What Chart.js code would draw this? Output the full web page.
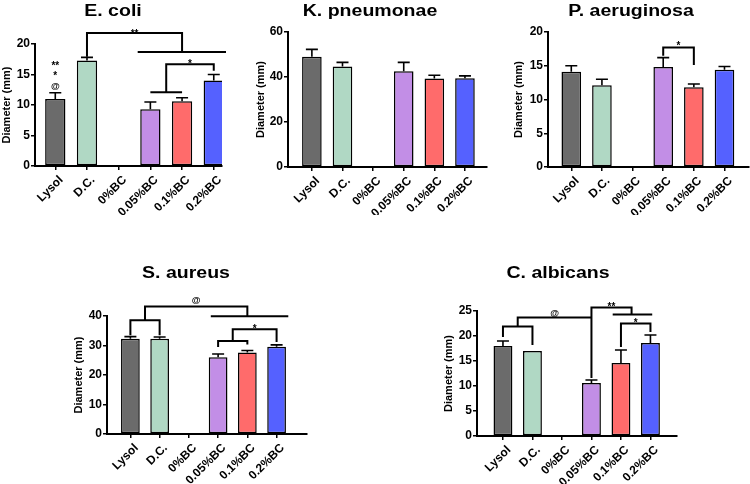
<!DOCTYPE html>
<html>
<head>
<meta charset="utf-8">
<script src="https://cdn.jsdelivr.net/npm/chart.js@4"></script>
<style>
  body { margin: 0; background: #fff; }
  #page { position: relative; width: 750px; height: 484px; overflow: hidden; background: #fff; }
  canvas { position: absolute; }
</style>
</head>
<body>
<div id="page">
  <canvas id="ecoli" width="226" height="215" style="left:0px;top:0px"></canvas>
  <canvas id="kpneu" width="240" height="215" style="left:250px;top:0px"></canvas>
  <canvas id="paeru" width="238" height="215" style="left:512px;top:0px"></canvas>
  <canvas id="saur" width="248" height="234" style="left:62px;top:250px"></canvas>
  <canvas id="calb" width="244" height="234" style="left:436px;top:250px"></canvas>
</div>
<script>
const categories = ['Lysol', 'D.C.', '0%BC', '0.05%BC', '0.1%BC', '0.2%BC'];
const barColors = ['#6b6b6b', '#b0d8c4', '#ffffff', '#c28ee6', '#ff6b6b', '#5561ff'];

// mean diameter (mm) and upper SD per group
const ecoliMean = [11.0, 17.3, 0, 9.3, 10.6, 14.0];
const ecoliSd = [1.0, 0.5, 0, 1.2, 0.6, 1.0];
const kpneuMean = [49.0, 44.7, 0, 42.6, 39.3, 39.5];
const kpneuSd = [3.3, 1.8, 0, 3.9, 1.5, 1.0];
const paeruMean = [14.1, 12.1, 0, 14.8, 11.8, 14.4];
const paeruSd = [0.9, 0.9, 0, 1.4, 0.5, 0.5];
const saurMean = [32.3, 32.3, 0, 26.0, 27.6, 29.6];
const saurSd = [0.7, 0.6, 0, 1.1, 0.7, 0.6];
const calbMean = [18.0, 17.0, 0, 10.6, 14.6, 18.6];
const calbSd = [1.0, 0, 0, 0.6, 2.6, 1.6];

// significance brackets: polylines as [category index, value]
const ecoliLines = [
  [[1, 17.9], [1, 21.8], [4, 21.8], [4, 18.7]],
  [[2.6, 18.7], [5.4, 18.7]],
  [[3.5, 12.1], [3.5, 16.7], [5, 16.7], [5, 15.6]],
  [[3, 12.1], [4, 12.1]]
];
const ecoliMarks = [['**', 2.5, 22.1], ['*', 4.25, 17.2], ['**', 0, 16.9], ['*', 0, 15.2], ['@', 0, 13.0]];
const kpneuLines = [];
const kpneuMarks = [];
const paeruLines = [[[3, 16.5], [3, 17.7], [4, 17.7], [4, 15.1]]];
const paeruMarks = [['*', 3.5, 18.3]];
const saurLines = [
  [[0.5, 38.6], [0.5, 43.2], [4, 43.2], [4, 39.9]],
  [[0, 33.5], [0, 38.6], [1, 38.6], [1, 33.5]],
  [[2.75, 39.9], [5.4, 39.9]],
  [[3.5, 31.5], [3.5, 35.5], [5, 35.5], [5, 31.2]],
  [[3, 29.5], [3, 31.5], [4, 31.5], [4, 30.3]]
];
const saurMarks = [['@', 2.25, 45.3], ['*', 4.25, 36.5]];
const calbLines = [
  [[0.5, 21.9], [0.5, 23.7], [3, 23.7]],
  [[0, 19.8], [0, 21.9], [1, 21.9], [1, 18.2]],
  [[3, 11.6], [3, 25.7], [4.36, 25.7], [4.36, 24.3]],
  [[3.72, 24.3], [5.06, 24.3]],
  [[4, 17.8], [4, 22.5], [5, 22.5], [5, 20.8]]
];
const calbMarks = [['@', 1.75, 24.5], ['**', 3.68, 26.3], ['*', 4.5, 23.1]];

const FONT = "'Liberation Sans', Arial, sans-serif";
Chart.defaults.font.family = FONT;
Chart.defaults.color = '#000';

// category axis with a little extra room at each end (GraphPad style)
const CategoryScale = Chart.registry.getScale('category');
class GapCategoryScale extends CategoryScale {
  configure() {
    super.configure();
    const gl = this.options.gapLeft || 0, gr = this.options.gapRight || 0;
    this._startValue -= gl;
    this._valueRange += gl + gr;
  }
}
GapCategoryScale.id = 'gapcategory';
GapCategoryScale.defaults = CategoryScale.defaults;
Chart.register(GapCategoryScale);

const annotate = {
  id: 'annotate',
  afterDatasetsDraw(chart, args, opts) {
    const ctx = chart.ctx;
    const x = chart.scales.x, y = chart.scales.y;
    const x0 = x.getPixelForValue(0);
    const step = x.getPixelForValue(1) - x0;
    const px = i => x0 + i * step;
    const values = chart.data.datasets[0].data;
    ctx.save();
    ctx.strokeStyle = '#000';
    ctx.lineWidth = 1.6;
    // error bars
    opts.sd.forEach((s, i) => {
      if (!s) return;
      const cx = px(i);
      const yb = y.getPixelForValue(values[i]);
      const yt = y.getPixelForValue(values[i] + s);
      ctx.beginPath();
      ctx.moveTo(cx, yb);
      ctx.lineTo(cx, yt);
      ctx.moveTo(cx - 6, yt);
      ctx.lineTo(cx + 6, yt);
      ctx.stroke();
    });
    // brackets
    ctx.lineWidth = 2;
    opts.lines.forEach(pts => {
      ctx.beginPath();
      pts.forEach((p, k) => {
        const X = px(p[0]), Y = y.getPixelForValue(p[1]);
        if (k === 0) ctx.moveTo(X, Y); else ctx.lineTo(X, Y);
      });
      ctx.stroke();
    });
    ctx.fillStyle = '#000';
    ctx.textAlign = 'center';
    ctx.textBaseline = 'alphabetic';
    opts.marks.forEach(([t, i, v]) => {
      const star = t.includes('*');
      const size = star ? 10 : 9;
      ctx.font = 'bold ' + size + 'px ' + FONT;
      ctx.fillText(t, px(i), y.getPixelForValue(v) + size * (star ? 0.57 : 0.28));
    });
    ctx.restore();
  },
  afterDraw(chart, args, opts) {
    const ctx = chart.ctx;
    ctx.save();
    ctx.fillStyle = '#000';
    ctx.font = 'bold 16px ' + FONT;
    ctx.textAlign = 'center';
    ctx.textBaseline = 'alphabetic';
    ctx.translate(chart.width / 2, opts.titleY);
    ctx.scale(1.22, 1);
    ctx.fillText(opts.title, 0, 0);
    ctx.restore();
  }
};

function makeChart(id, title, mean, sd, yMax, yStep, lines, marks, box) {
  new Chart(document.getElementById(id), {
    type: 'bar',
    data: {
      labels: categories,
      datasets: [{
        data: mean,
        backgroundColor: barColors,
        borderColor: '#000',
        borderWidth: 1.5,
        borderSkipped: false,
        barPercentage: 0.64,
        categoryPercentage: 1
      }]
    },
    options: {
      responsive: false,
      animation: false,
      layout: { padding: { left: box.left, right: box.right, top: box.top, bottom: 0 } },
      plugins: {
        legend: { display: false },
        tooltip: { enabled: false },
        annotate: { title: title, titleY: box.titleY, sd: sd, lines: lines, marks: marks }
      },
      scales: {
        x: {
          type: 'gapcategory',
          offset: true,
          gapLeft: box.gl,
          gapRight: box.gr,
          grid: { drawOnChartArea: false, offset: false, color: '#000', lineWidth: 1.5, tickLength: 4 },
          border: { color: '#000', width: 2 },
          ticks: {
            minRotation: 45, maxRotation: 45, autoSkip: false,
            padding: 3, labelOffset: 6,
            font: { size: 12, weight: 'bold' }
          },
          afterFit: s => { s.height = box.xh; }
        },
        y: {
          min: 0,
          max: yMax,
          grid: { drawOnChartArea: false, color: '#000', lineWidth: 1.5, tickLength: 4 },
          border: { color: '#000', width: 2 },
          ticks: { stepSize: yStep, padding: 1, font: { size: 12, weight: 'bold' } },
          title: { display: true, text: 'Diameter (mm)', padding: 0, font: { size: 11, weight: 'bold' } },
          afterFit: s => { s.width = box.yw; }
        }
      }
    },
    plugins: [annotate]
  });
}

makeChart('ecoli', 'E. coli', ecoliMean, ecoliSd, 20, 5, ecoliLines, ecoliMarks,
  { left: 0, right: 4, top: 44, xh: 49, yw: 35, titleY: 16, gl: 0.07, gr: -0.12 });
makeChart('kpneu', 'K. pneumonae', kpneuMean, kpneuSd, 60, 20, kpneuLines, kpneuMarks,
  { left: 4, right: 3, top: 32, xh: 48, yw: 34, titleY: 16, gl: 0.14, gr: 0.11 });
makeChart('paeru', 'P. aeruginosa', paeruMean, paeruSd, 20, 5, paeruLines, paeruMarks,
  { left: 0, right: 1, top: 32, xh: 48, yw: 36, titleY: 16, gl: 0.13, gr: 0.15 });
makeChart('saur', 'S. aureus', saurMean, saurSd, 40, 10, saurLines, saurMarks,
  { left: 10, right: 3, top: 66, xh: 50, yw: 35, titleY: 28, gl: 0.15, gr: 0.27 });
makeChart('calb', 'C. albicans', calbMean, calbSd, 25, 5, calbLines, calbMarks,
  { left: 6, right: 3, top: 61, xh: 48, yw: 35, titleY: 28, gl: 0.19, gr: 0.2 });
</script>
</body>
</html>
